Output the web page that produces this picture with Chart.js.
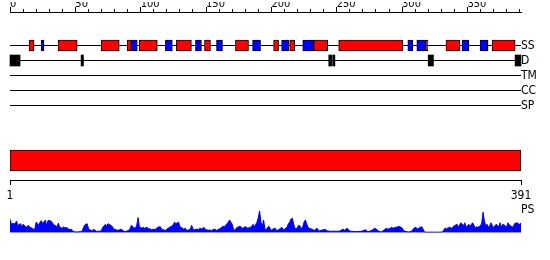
<!DOCTYPE html>
<html>
<head>
<meta charset="utf-8">
<script src="https://cdn.jsdelivr.net/npm/chart.js@4"></script>
<style>
body{margin:0;background:#fff}
#wrap{position:relative;width:550px;height:260px;overflow:hidden;background:#fff}
canvas{position:absolute;left:0}
</style>
</head>
<body>
<div id="wrap">
  <canvas id="ruler" width="550" height="60" style="top:2px"></canvas>
  <canvas id="tracks" width="550" height="90" style="top:30px"></canvas>
  <canvas id="domain" width="550" height="65" style="top:140px"></canvas>
  <canvas id="ps" width="550" height="40" style="top:200px"></canvas>
</div>
<script>
// sequence + tracks
const seqLen = 391;
const tracks = ['SS','D','TM','CC','SP'];
const psLabel = 'PS';
const rulerLabels = [0,50,100,150,200,250,300,350];
const rulerStep = 10;
const bottomTicks = [1,391];

// secondary structure (start,end residue)
const helices = [[14.6,18.4],[36.8,51.4],[69.8,83.6],[89.7,92.8],[98.9,112.7],[127.3,138.8],[148.8,153.4],
  [172.5,182.5],[201.7,205.5],[214,217.8],[232.4,243.1],[251.5,300.6],[318.3,319.8],[333.6,344.3],[368.9,386.5]];
const strands = [[23.8,26],[92.8,97.4],[118.9,124.2],[141.9,146.5],[158,162.6],[185.6,191.7],[207.8,213.2],
  [224,232.4],[304.4,308.3],[311.3,318.3],[345.9,351.2],[359.7,365.8]];
const disorder = [[0,7.7],[54.4,56.2],[243.9,246.2],[246.9,248.6],[320,324],[386.5,391]];
const domains = [[1,391]];

// PS profile
const psPos = [0,1,4,5,6,8,9,10,12,13,14,15,17,18,19,20,22,23,24,25,27,28,29,31,32,33,34,36,37,38,40,41,42,43,45,46,47,48,50,52,55,57,59,60,61,63,64,65,66,69,70,71,73,74,75,77,78,79,80,82,84,85,87,88,89,91,92,93,94,96,97,98,
  99,101,102,103,105,106,107,108,110,111,112,113,115,116,117,119,120,121,122,124,125,126,127,129,130,131,133,134,135,136,138,139,140,141,143,144,145,147,148,149,150,152,153,154,155,157,158,159,161,162,163,164,166,167,168,170,171,172,173,175,176,177,178,180,181,182,184,185,186,187,189,190,191,192,193,194,195,196,198,199,
  200,201,203,204,205,207,208,209,210,212,213,214,215,216,217,218,219,221,222,223,224,225,226,227,228,229,231,232,233,235,236,237,238,240,241,242,243,245,249,252,254,255,256,258,259,260,261,264,266,269,272,273,274,275,277,278,279,281,282,283,284,286,287,288,289,291,292,293,294,296,297,298,
  300,301,302,303,305,306,307,308,310,311,312,314,315,316,317,319,329,331,333,334,335,337,338,339,340,342,343,344,345,347,348,349,351,352,353,354,356,357,358,360,361,362,363,364,365,366,367,368,370,371,372,374,375,376,377,379,380,381,382,384,385,386,388,389,390,391];
const psVal = [15,10,10,13,8,10,6.7,9.3,6.7,6,8.3,6,5,4,4,11.7,8.3,11.7,13.3,10,14,8.3,13.3,13.3,11.7,10,8.3,6.7,10.7,6,5,6.7,5,6,4,3.3,4,1.7,1,1,1.3,8.3,10,5,3.3,2.3,4,2.7,1.7,1.7,2.7,6,9.3,7.3,10,8.3,7.3,5,4,2.7,3.3,4,2,1.3,1.7,2.7,5,8.3,6,5,8.3,16.7,
  6.7,5,6,5,6,4,4.7,3.3,4,3.3,5,6,6.7,4,3.3,2.7,4,5,6,7.3,9.3,11.7,10,11.7,6.7,6,4,5,3.3,2.7,4,8.3,4,3.3,4,3.3,5,4,6,5,3.3,2.7,3.3,2,3.3,4,2.7,3.3,5,6,7.3,6.7,10,11.7,14,9.3,4,2.7,5,6.7,7.3,6,5,6.7,6,5,6,7.3,9.3,6.7,11.7,16.7,24,11.7,6.7,14,5,3.3,7.3,5,
  2.7,4,5,2.7,2.7,5,6,3.3,4,6,10,11.7,15,16,10,5,4,8.3,7.3,4,6.7,11.7,14,10,6,5,4,3.3,2.7,5,2.7,2,2.7,3.3,4,2.7,2,1.7,1.7,1.7,3.3,4,2.7,5,3.3,2,1.7,1.3,1.3,1.7,3.3,2,1.3,1.7,2.7,4,5,3.3,2,1.3,1,2.7,4,5,4,5,6,5,5.5,6,7,7,
  5.3,2.7,2,1.3,1,1.3,1,3.3,6,5.3,4.3,6,6.7,4.3,1,0.7,0.7,1,5.3,4.3,5.3,6,4.7,6.7,7.7,9.3,6,8.7,11,7.7,11,6,9.3,6.7,9.3,11,5.3,6.7,6,7.7,11,22.7,12.7,7.7,9.3,6,7.7,11,5.3,7.7,9.3,6.7,11,6,9.3,7.7,6,11,8.7,6.7,6,10,11,10,9.3,11];

Chart.defaults.font.family = '"Liberation Sans Narrow", "DejaVu Sans Condensed", "Liberation Sans", sans-serif';
Chart.defaults.color = '#000';
Chart.defaults.animation = false;
Chart.defaults.responsive = false;
Chart.defaults.plugins.legend.display = false;
Chart.defaults.plugins.tooltip.enabled = false;

// top ruler (canvas is tall so the top axes are not squeezed)
new Chart(document.getElementById('ruler'), {
  type:'line',
  data:{datasets:[]},
  options:{
    layout:{padding:{left:10,right:29,top:0,bottom:0}},
    scales:{
      x:{type:'linear', position:'top', min:0, max:seqLen, weight:0,
        afterBuildTicks:s=>{ const t=[]; for(let v=0; v<seqLen; v+=rulerStep) t.push({value:v}); s.ticks=t; },
        ticks:{display:false},
        grid:{drawOnChartArea:false, tickLength:3, color:'#000'},
        border:{display:true, color:'#000'}},
      x2:{type:'linear', axis:'x', position:'top', min:0, max:seqLen, weight:1,
        afterBuildTicks:s=>{ s.ticks = rulerLabels.map(v=>({value:v})); },
        ticks:{align:'start', padding:-3, maxRotation:0, autoSkip:false, font:{size:11, lineHeight:1}},
        grid:{drawOnChartArea:false, tickLength:2, color:'#000'},
        border:{display:false}},
      y:{display:false}
    }
  }
});

// SS / D / TM / CC / SP tracks
const boxStyle = {type:'bar', borderColor:'#000', borderWidth:1, borderSkipped:false, barThickness:11, grouped:false, order:1, clip:false};
new Chart(document.getElementById('tracks'), {
  type:'bar',
  data:{datasets:[
    ...tracks.map(t=>({type:'line', data:[{x:0,y:t},{x:seqLen,y:t}], borderColor:'#000', borderWidth:1, pointRadius:0, order:2, clip:false})),
    {...boxStyle, data:helices.map(([a,b])=>({x:[a,b], y:'SS'})), backgroundColor:'#ff0000'},
    {...boxStyle, data:strands.map(([a,b])=>({x:[a,b], y:'SS'})), backgroundColor:'#0000ff'},
    {...boxStyle, data:disorder.map(([a,b])=>({x:[a,b], y:'D'})), backgroundColor:'#000', borderWidth:0}
  ]},
  options:{
    indexAxis:'y',
    layout:{padding:{left:10,right:0,top:15.5,bottom:14.5}},
    scales:{
      x:{type:'linear', min:0, max:seqLen, display:false},
      y:{type:'category', labels:tracks, position:'right', offset:false,
        grid:{display:false, drawTicks:false}, border:{display:false},
        ticks:{padding:0, autoSkip:false, font:{size:12}},
        afterFit:s=>{ s.width = 29; }}
    }
  }
});

// domain bar + bottom axis
new Chart(document.getElementById('domain'), {
  type:'bar',
  data:{labels:[''], datasets:[{data:domains.map(([a,b])=>[a,b]), backgroundColor:'#ff0000', borderColor:'#000',
    borderWidth:1, borderSkipped:false, barThickness:21}]},
  options:{
    indexAxis:'y',
    layout:{padding:{left:10,right:29,top:1,bottom:0}},
    scales:{
      x:{type:'linear', position:'bottom', min:1, max:seqLen,
        afterBuildTicks:s=>{ s.ticks = bottomTicks.map(v=>({value:v})); },
        ticks:{padding:5, maxRotation:0, autoSkip:false, font:{size:12, lineHeight:1}},
        grid:{drawOnChartArea:false, tickLength:5, color:'#000'},
        border:{display:true, color:'#000'},
        afterFit:s=>{ s.height = 25; }},
      y:{type:'category', display:false, offset:true}
    }
  }
});

// PS profile
new Chart(document.getElementById('ps'), {
  type:'line',
  data:{datasets:[{data:psPos.map((x,i)=>({x, y:psVal[i]})), fill:'origin', backgroundColor:'#0000ff',
    borderColor:'#0000ff', borderWidth:1, pointRadius:0, tension:0}]},
  options:{
    layout:{padding:{left:10,right:0,top:10,bottom:0}},
    scales:{
      x:{type:'linear', min:0, max:seqLen, ticks:{display:false}, grid:{display:false, drawTicks:false},
        border:{display:false}, afterFit:s=>{ s.height = 5; }},
      y:{min:0, max:25, position:'right',
        afterBuildTicks:s=>{ s.ticks = [{value:25}]; },
        ticks:{callback:()=>psLabel, padding:0, font:{size:12}},
        grid:{display:false, drawTicks:false}, border:{display:false},
        afterFit:s=>{ s.width = 29; }}
    }
  }
});
</script>
</body>
</html>
